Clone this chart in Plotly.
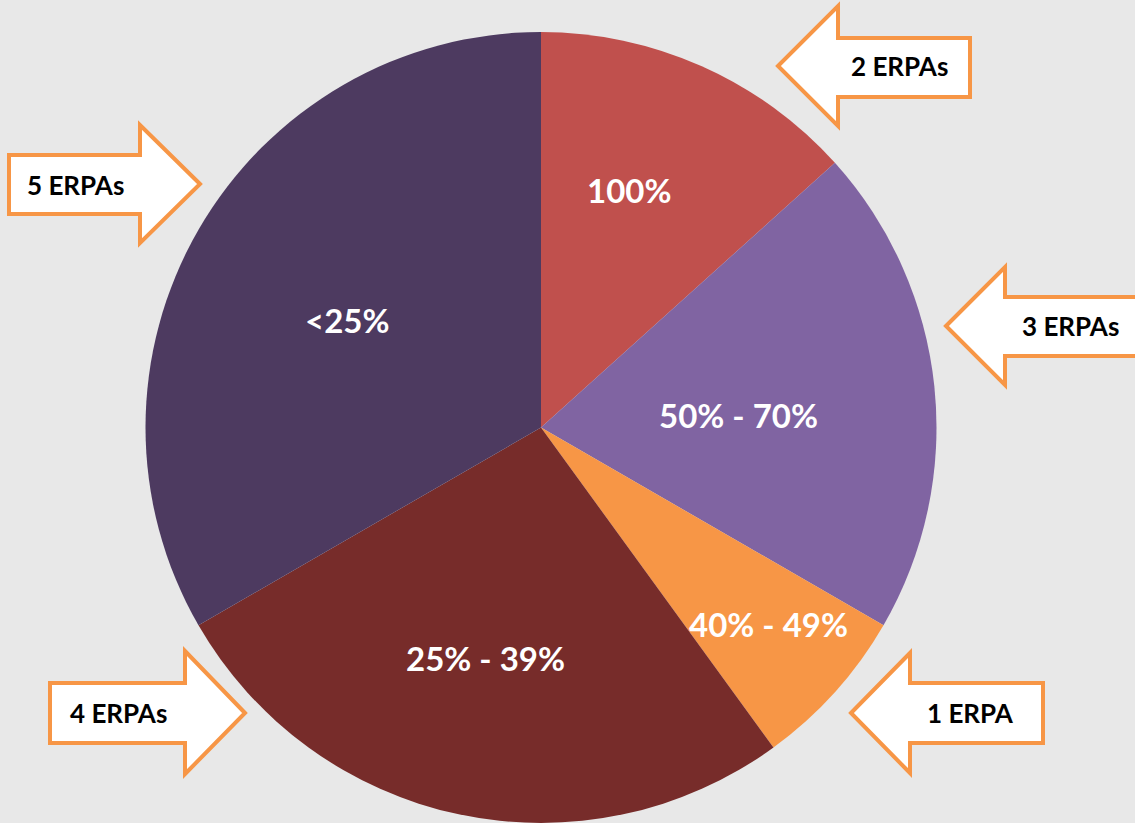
import math
import plotly.graph_objects as go

# ---- data ----
slice_labels = ["100%", "50% - 70%", "40% - 49%", "25% - 39%", "<25%"]
erpa_counts = [2, 3, 1, 4, 5]
arrow_labels = ["2 ERPAs", "3 ERPAs", "1 ERPA", "4 ERPAs", "5 ERPAs"]
slice_colors = ["#C0504D", "#8064A2", "#F79646", "#772C2A", "#4D3A60"]

W, H = 1135, 823
BG = "#E8E8E8"
ORANGE = "#F79646"
FONT = "Lato"

# pie geometry (pixels)
cx, R = 541, 395.5
cy = H - R
dom_x = [(cx - R) / W, (cx + R) / W]
dom_y = [0, min(1, 2 * R / H)]

fig = go.Figure(go.Pie(
    labels=slice_labels,
    values=erpa_counts,
    sort=False,
    direction="clockwise",
    rotation=0,
    marker=dict(colors=slice_colors, line=dict(width=0)),
    textinfo="none",
    hoverinfo="label+value",
    domain=dict(x=dom_x, y=dom_y),
    showlegend=False,
))

# slice label placement (style): radial fraction and angular nudge
label_frac = [0.64, 0.50, 0.76, 0.60, 0.56]
label_nudge = [-3.7, 2.5, -1.3, 1.6, -0.9]
total = sum(erpa_counts)
cum = 0
for lab, v, f, nd in zip(slice_labels, erpa_counts, label_frac, label_nudge):
    mid = (cum + v / 2) / total * 360 + nd
    cum += v
    px = cx + R * f * math.sin(math.radians(mid))
    py = cy - R * f * math.cos(math.radians(mid))
    fig.add_annotation(x=px / W, y=1 - py / H, xref="paper", yref="paper",
                       xanchor="center", yanchor="middle",
                       text=f"<b>{lab}</b>", showarrow=False,
                       font=dict(family=FONT, size=33, color="white"))


def P(x, y):
    return f"{x / W:.5f},{1 - y / H:.5f}"


def arrow_path(tip_x, tip_y, head_x, head_top, head_bot, shaft_top, shaft_bot, tail_x):
    pts = [(tip_x, tip_y), (head_x, head_top), (head_x, shaft_top), (tail_x, shaft_top),
           (tail_x, shaft_bot), (head_x, shaft_bot), (head_x, head_bot)]
    return "M " + " L ".join(P(x, y) for x, y in pts) + " Z"


# arrow decorations (layout): tip, head base, head extents, shaft extents, tail
arrows = [
    (778, 66, 838, 6, 126, 38, 97, 970),
    (946, 326, 1005, 267, 385, 297, 356, 1140),
    (851, 713, 910, 653, 773, 683, 743, 1043),
    (245, 713, 185, 651, 774, 683, 743, 50),
    (200, 184, 140, 125, 243, 155, 214, 9),
]
text_pos = [(900, 66), (1070, 326), (970, 713), (118, 713), (75, 185)]

for a, lab, (tx, ty) in zip(arrows, arrow_labels, text_pos):
    fig.add_shape(type="path", path=arrow_path(*a), xref="paper", yref="paper",
                  fillcolor="white", line=dict(color=ORANGE, width=4), layer="above")
    fig.add_annotation(x=tx / W, y=1 - ty / H, xref="paper", yref="paper",
                       xanchor="center", yanchor="middle",
                       text=f"<b>{lab}</b>", showarrow=False,
                       font=dict(family=FONT, size=26, color="black"))

fig.update_layout(
    width=W, height=H,
    margin=dict(l=0, r=0, t=0, b=0),
    paper_bgcolor=BG, plot_bgcolor=BG,
    showlegend=False,
)

fig.write_html(
    "out.html",
    config={"displayModeBar": False},
    post_script="document.body.style.margin='0';document.body.style.overflow='hidden';"
                "document.body.style.background='#E8E8E8';",
)
